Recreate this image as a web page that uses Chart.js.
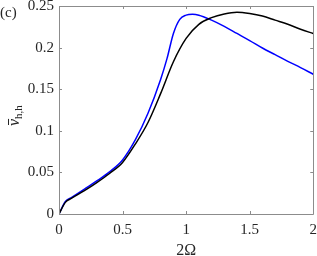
<!DOCTYPE html>
<html>
<head>
<meta charset="utf-8">
<script src="https://cdn.jsdelivr.net/npm/chart.js@4"></script>
<style>
  html, body { margin: 0; padding: 0; background: #fff; }
  #wrap { width: 317px; height: 256px; position: relative; }
</style>
</head>
<body>
<div id="wrap"><canvas id="c"></canvas></div>
<script>
// data
const xBlack = [0, 0.05, 0.1, 0.2, 0.3, 0.4, 0.5, 0.6, 0.7, 0.8, 0.9, 1.0, 1.1, 1.2, 1.3, 1.4, 1.5, 1.6, 1.7, 1.8, 1.9, 2.0];
const yBlack = [0, 0.014, 0.019, 0.028, 0.038, 0.049, 0.062, 0.084, 0.110, 0.145, 0.183, 0.211, 0.228, 0.236, 0.2405, 0.2425, 0.241, 0.238, 0.233, 0.228, 0.222, 0.217];
const xBlue = [0, 0.05, 0.1, 0.2, 0.3, 0.4, 0.5, 0.6, 0.7, 0.8, 0.85, 0.9, 0.95, 1.0, 1.05, 1.1, 1.2, 1.3, 1.4, 1.5, 1.6, 1.7, 1.8, 1.9, 2.0];
const yBlue = [0, 0.015, 0.020, 0.030, 0.040, 0.051, 0.065, 0.089, 0.121, 0.162, 0.187, 0.217, 0.234, 0.239, 0.240, 0.239, 0.233, 0.2255, 0.217, 0.2085, 0.1995, 0.1915, 0.1835, 0.176, 0.168];
const xTicks = [0, 0.5, 1, 1.5, 2];
const yTicks = [0, 0.05, 0.1, 0.15, 0.2, 0.25];

const axisColor = "#8c8c8c";
const textColor = "#262626";
const serif = "Liberation Serif";

const toPts = (xs, ys) => xs.map((x, i) => ({ x, y: ys[i] }));

// box round the plot with inward ticks, plus the y label and panel tag
const frame = {
    id: "frame",
    afterDraw(chart) {
        const { ctx, chartArea: a, scales } = chart;
        ctx.save();
        ctx.strokeStyle = axisColor;
        ctx.lineWidth = 1;
        ctx.beginPath();
        ctx.rect(Math.round(a.left) + 0.5, Math.round(a.top) + 0.5, Math.round(a.right - a.left), Math.round(a.bottom - a.top));
        xTicks.forEach(v => {
            const px = Math.round(scales.x.getPixelForValue(v)) + 0.5;
            ctx.moveTo(px, a.bottom); ctx.lineTo(px, a.bottom - 3);
            ctx.moveTo(px, a.top); ctx.lineTo(px, a.top + 3);
        });
        yTicks.forEach(v => {
            const py = Math.round(scales.y.getPixelForValue(v)) + 0.5;
            ctx.moveTo(a.left, py); ctx.lineTo(a.left + 3, py);
            ctx.moveTo(a.right, py); ctx.lineTo(a.right - 3, py);
        });
        ctx.stroke();

        ctx.fillStyle = textColor;
        ctx.font = "15px '" + serif + "'";
        ctx.textAlign = "left";
        ctx.textBaseline = "middle";
        ctx.fillText("(c)", 0, 13);

        // rotated y label: nu bar with subscript h,h
        ctx.translate(14, 112);
        ctx.rotate(-Math.PI / 2);
        ctx.font = "italic 16px '" + serif + "'";
        ctx.textBaseline = "alphabetic";
        const w = ctx.measureText("ν").width;
        ctx.fillText("ν", -14, 5);
        ctx.fillRect(-13, -6, w - 1, 1);
        ctx.font = "11px '" + serif + "'";
        ctx.fillText("h,h", -14 + w, 8);
        ctx.restore();
    }
};

new Chart(document.getElementById("c"), {
    type: "line",
    data: {
        datasets: [
            { data: toPts(xBlack, yBlack), borderColor: "#000000", borderWidth: 1.5, pointRadius: 0, cubicInterpolationMode: "monotone", fill: false },
            { data: toPts(xBlue, yBlue), borderColor: "#0000ff", borderWidth: 1.5, pointRadius: 0, cubicInterpolationMode: "monotone", fill: false }
        ]
    },
    options: {
        responsive: true,
        maintainAspectRatio: false,
        animation: false,
        layout: { padding: 0 },
        plugins: { legend: { display: false }, tooltip: { enabled: false } },
        scales: {
            x: {
                type: "linear",
                min: 0, max: 2,
                afterBuildTicks: s => { s.ticks = xTicks.map(v => ({ value: v })); },
                afterFit: s => { s.height = 42; },
                grid: { display: false, tickLength: 7 },
                border: { display: false },
                ticks: { color: textColor, font: { family: serif, size: 15 }, padding: 0, maxRotation: 0, callback: v => String(v) },
                title: { display: true, text: "2Ω", color: textColor, font: { family: serif, size: 16 }, padding: { top: 0, bottom: -4 } }
            },
            y: {
                min: 0, max: 0.25,
                afterBuildTicks: s => { s.ticks = yTicks.map(v => ({ value: v })); },
                afterFit: s => { s.width = 59; },
                grid: { display: false, tickLength: 5 },
                border: { display: false },
                ticks: { color: textColor, font: { family: serif, size: 15, lineHeight: 0.8 }, padding: 0, callback: v => String(v) }
            }
        }
    },
    plugins: [frame]
});
</script>
</body>
</html>
